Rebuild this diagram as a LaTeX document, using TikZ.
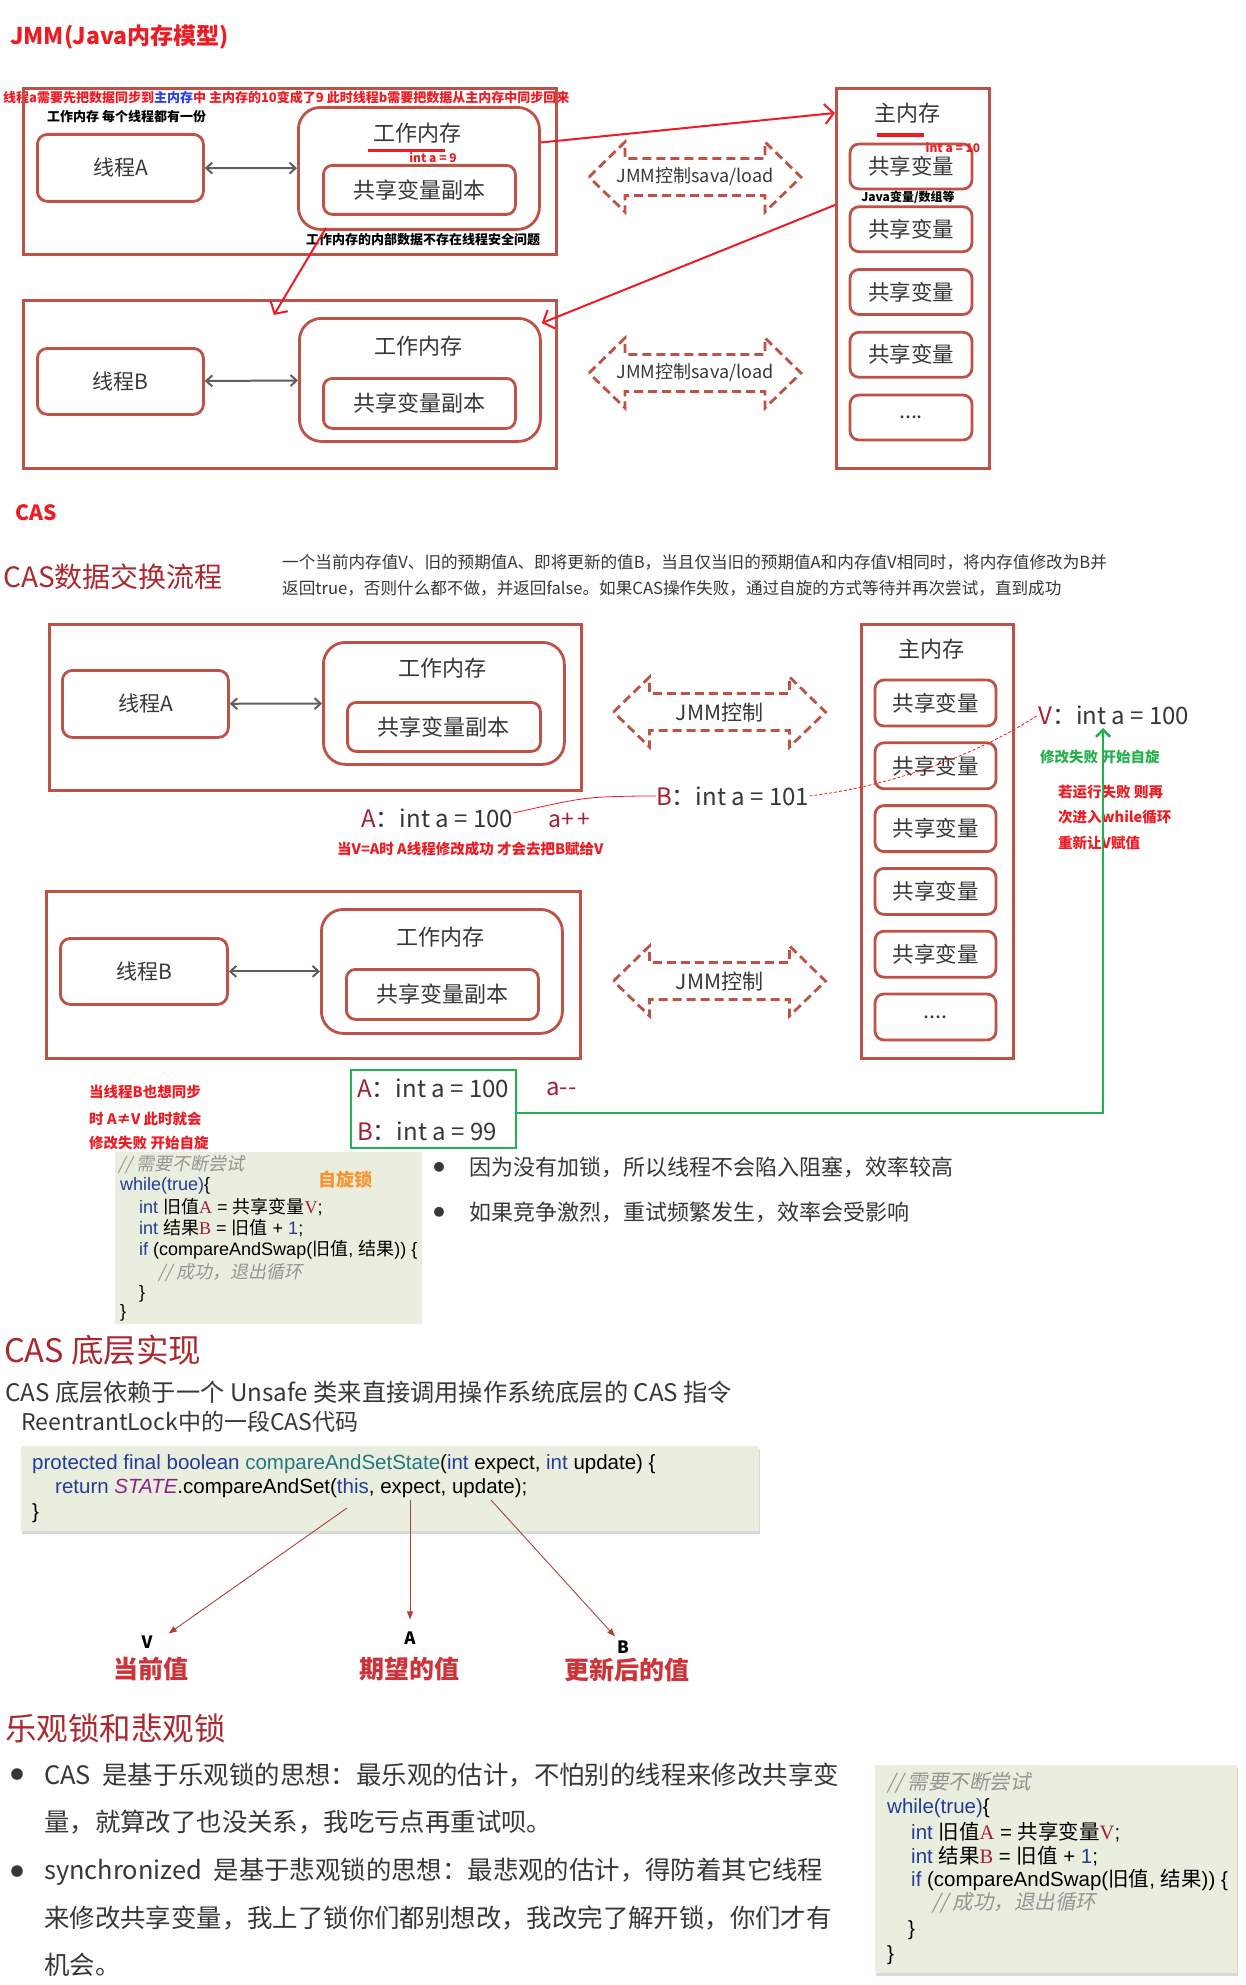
\documentclass[tikz,border=0pt]{standalone}
\usepackage{fontspec}
\setmainfont{Noto Sans CJK SC}
\newfontfamily\cjk{Noto Sans CJK SC}
\newfontfamily\cjkit[FakeSlant=0.2]{Noto Sans CJK SC}
\newfontfamily\codefont{Liberation Sans}
\newfontfamily\letterfont{Liberation Serif}
\usetikzlibrary{arrows.meta,shadows}
\definecolor{BoxRed}{RGB}{190,82,70}
\definecolor{NoteRed}{RGB}{237,28,36}
\definecolor{NoteBlue}{RGB}{45,65,225}
\definecolor{SpinGreen}{RGB}{34,177,76}
\definecolor{TitleRed}{RGB}{170,40,48}
\definecolor{ValRed}{RGB}{165,30,50}
\definecolor{LabelRed}{RGB}{205,52,58}
\definecolor{LockOrange}{RGB}{245,150,50}
\definecolor{CodeBg}{RGB}{234,238,222}
\definecolor{CodeBlue}{RGB}{35,60,150}
\definecolor{CodeTeal}{RGB}{35,120,130}
\definecolor{CodePurple}{RGB}{140,35,140}
\definecolor{CodeGray}{RGB}{150,150,150}
\definecolor{TextGray}{RGB}{55,55,55}
\definecolor{LinkGray}{RGB}{95,95,95}
\definecolor{PtrRed}{RGB}{175,65,60}
\newcommand\fsz[1]{\fontsize{#1pt}{#1pt}\selectfont}
\newcommand\kw[1]{\textcolor{CodeBlue}{#1}}
\newcommand\cn[1]{{\cjk #1}}
\newcommand\cmt[1]{\textcolor{CodeGray}{\cjkit #1}}
\newcommand\rv[1]{\textcolor{ValRed}{\letterfont #1}}
\newcommand\val[2]{\textcolor{ValRed}{#1}：#2}
\newcommand\moredots{....}
% dashed double arrow of the JMM control
\newcommand\jmmctrl[4]{%
  \draw[ctrl,shift={(#2,#3)}] (-106,0) -- (-70,-35) -- (-70,-18.5) -- (70,-18.5)
    -- (70,-35) -- (106,0) -- (70,35) -- (70,18.5) -- (-70,18.5) -- (-70,35) -- cycle;
  \node[txt] (#1) at (#2,#3) {#4};}
\tikzset{
  outbox/.style={draw=BoxRed,line width=2.8pt,inner sep=0pt,text=TextGray},
  thread/.style={outbox,rounded corners=10pt,font=\fsz{21}},
  workmem/.style={outbox,rounded corners=22pt},
  copybox/.style={outbox,rounded corners=9pt,font=\fsz{22}},
  varbox/.style={outbox,rounded corners=9pt,font=\fsz{21.5},
    minimum width=122pt,minimum height=45pt},
  wh/.style 2 args={minimum width=#1pt,minimum height=#2pt,anchor=north west},
  txt/.style={inner sep=0pt,text=TextGray},
  note/.style={inner sep=0pt,anchor=west,font=\bfseries\fsz{13},text=NoteRed},
  casnote/.style={note,font=\bfseries\fsz{14.5}},
  heading/.style={inner sep=0pt,anchor=west,text=TitleRed,font=\fsz{30}},
  link/.style={{Straight Barb[length=6pt,width=11pt]}-{Straight Barb[length=6pt,width=11pt]},
    line width=2pt,LinkGray},
  sync/.style={-{Straight Barb[length=9pt,width=20pt]},line width=2pt,NoteRed},
  ctrl/.style={draw=BoxRed,line width=2.8pt,dash pattern=on 9pt off 5pt},
  codebox/.style={fill=CodeBg,inner sep=0pt,anchor=north west},
  codeline/.style={inner sep=0pt,anchor=west,font=\codefont\fsz{18}},
  pointer/.style={-{Triangle[length=8pt,width=6pt]},line width=0.9pt,PtrRed},
  shade/.style={drop shadow={shadow xshift=1pt,shadow yshift=-3pt,opacity=0.3}}
}
\begin{document}
\begin{tikzpicture}[x=1pt,y=-1pt]
\fill[white] (0,0) rectangle (1245,1985);
\useasboundingbox (0,0) rectangle (1245,1985);

% JMM
\node[heading,font=\bfseries\fsz{23},text=NoteRed] (jmmTitle) at (10,37) {JMM(Java内存模型)};
\node[note] (syncNote) at (3,98) {线程a需要先把数据同步到\textcolor{NoteBlue}{主内存}中 主内存的10变成了9 此时线程b需要把数据从主内存中同步回来};
\node[note,text=black] (wmNote) at (47,117) {工作内存 每个线程都有一份};

\node[outbox,wh={533}{166}] (outA) at (22,87) {};
\node[thread,wh={166}{67}] (thA) at (36,133) {线程A};
\node[workmem,wh={241}{122}] (wmA) at (297,106) {};
\node[txt,font=\fsz{22}] (wmAt) at (417,133) {工作内存};
\draw[NoteRed,line width=3pt] (368,151) -- (445,151);
\node[txt,font=\bfseries\fsz{12},text=NoteRed] (wmAval) at (433,158) {int a = 9};
\node[copybox,wh={192}{49}] (cpA) at (322,164) {共享变量副本};
\draw[link] (thA) -- (wmA);
\node[note,text=black] (safeNote) at (306,240) {工作内存的内部数据不存在线程安全问题};

\node[outbox,wh={533}{168}] (outB) at (22,299) {};
\node[thread,wh={166}{66}] (thB) at (36,347) {线程B};
\node[workmem,wh={241}{123}] (wmB) at (298,317) {};
\node[txt,font=\fsz{22}] (wmBt) at (418,346) {工作内存};
\node[copybox,wh={192}{50}] (cpB) at (322,377) {共享变量副本};
\draw[link] (thB) -- (wmB);

\jmmctrl{ctrlA}{695}{177}{\fsz{18}JMM控制sava/load}
\jmmctrl{ctrlB}{695}{373}{\fsz{18}JMM控制sava/load}

\node[outbox,wh={153}{380}] (mmA) at (835,87) {};
\node[txt,font=\fsz{22}] (mmAt) at (907,113) {主内存};
\draw[NoteRed,line width=4pt] (877,135) -- (924,135);
\foreach \i/\t in {1/共享变量,2/共享变量,3/共享变量,4/共享变量,5/\moredots}
  \node[varbox] (svA\i) at (911,{166.5+62.75*(\i-1)}) {\t};
\node[txt,font=\bfseries\fsz{12},text=NoteRed] (mmAval) at (953,148) {int a = 10};
\node[txt,font=\bfseries\fsz{12},text=black] (mmAnote) at (908,197) {Java变量/数组等};

\draw[sync] (wmA.12) -- ([yshift=-26pt]mmA.north west);
\draw[sync] ([yshift=-118pt]mmA.north west) -- (wmB.25);
\draw[sync] ([shift={(29pt,3pt)}]wmA.south west) -- ([shift={(-16pt,-16pt)}]outB.north);

% CAS
\node[heading,font=\bfseries\fsz{21},text=NoteRed] (casTag) at (15,513) {CAS};
\node[heading,font=\fsz{28}] (casTitle) at (3,577) {CAS数据交换流程};
\node[txt,anchor=west,font=\fsz{16.6}] (casDesc1) at (282,562) {一个当前内存值V、旧的预期值A、即将更新的值B，当且仅当旧的预期值A和内存值V相同时，将内存值修改为B并};
\node[txt,anchor=west,font=\fsz{16.6}] (casDesc2) at (282,588) {返回true，否则什么都不做，并返回false。如果CAS操作失败，通过自旋的方式等待并再次尝试，直到成功};

\node[outbox,wh={532}{166}] (outCA) at (48,623) {};
\node[thread,wh={166}{67}] (thCA) at (61,669) {线程A};
\node[workmem,wh={241}{122}] (wmCA) at (322,641) {};
\node[txt,font=\fsz{22}] (wmCAt) at (442,668) {工作内存};
\node[copybox,wh={193}{49}] (cpCA) at (346,701) {共享变量副本};
\draw[link] (thCA) -- (wmCA);

\node[outbox,wh={534}{167}] (outCB) at (45,890) {};
\node[thread,wh={167}{66}] (thCB) at (59,937) {线程B};
\node[workmem,wh={241}{124}] (wmCB) at (320,908) {};
\node[txt,font=\fsz{22}] (wmCBt) at (440,937) {工作内存};
\node[copybox,wh={192}{50}] (cpCB) at (345,968) {共享变量副本};
\draw[link] (thCB) -- (wmCB);

\jmmctrl{ctrlCA}{719.5}{712}{\fsz{21}JMM控制}
\jmmctrl{ctrlCB}{719.5}{981}{\fsz{21}JMM控制}

\node[outbox,wh={152}{434}] (mmC) at (860,623) {};
\node[txt,font=\fsz{22}] (mmCt) at (931,649) {主内存};
\foreach \i/\t in {1/共享变量,2/共享变量,3/共享变量,4/共享变量,5/共享变量,6/\moredots}
  \node[varbox,minimum width=121pt,minimum height=46pt] (svC\i) at (935.5,{703+62.8*(\i-1)}) {\t};

\node[txt,anchor=west,font=\fsz{24}] (Aval) at (361,818) {\val{A}{int a = 100}};
\node[txt,anchor=west,font=\fsz{23}] (aInc) at (548,820) {\textcolor{ValRed}{a+\,+}};
\node[casnote] (okNote) at (337,849) {当V=A时 A线程修改成功 才会去把B赋给V};
\node[txt,anchor=west,font=\fsz{24}] (Bval) at (656,796) {\val{B}{int a = 101}};
\node[txt,anchor=west,font=\fsz{24}] (Vval) at (1038,715) {\val{V}{int a = 100}};
\draw[NoteRed,line width=0.8pt] ([yshift=5pt]Aval.east) .. controls (585,797) .. (640,796) -- (Bval.west);
\draw[NoteRed,line width=0.8pt,dash pattern=on 3pt off 2pt] (Bval.east) .. controls (900,785) and (985,750) .. (Vval.west);
\node[casnote,text=SpinGreen] (failNote) at (1040,757) {修改失败 开始自旋};
\node[casnote] (retry1) at (1058,792) {若运行失败 则再};
\node[casnote] (retry2) at (1058,817) {次进入while循环};
\node[casnote] (retry3) at (1058,843) {重新让V赋值};

\node[draw=SpinGreen,line width=1.5pt,inner sep=0pt,wh={165}{78}] (grn) at (350,1069) {};
\node[txt,anchor=west,font=\fsz{24}] (gA) at (357,1088) {\val{A}{int a = 100}};
\node[txt,anchor=west,font=\fsz{24}] (gB) at (357,1131) {\val{B}{int a = 99}};
\node[txt,anchor=west,font=\fsz{24}] (aDec) at (546,1089) {\textcolor{ValRed}{a-{}-}};
\coordinate (spinTop) at (1103,728);
\draw[SpinGreen,line width=2.5pt,-{Straight Barb[length=7pt,width=14pt]}] ([yshift=-4pt]grn.east) -| (spinTop);

\node[casnote] (bNote1) at (89,1092) {当线程B也想同步};
\node[casnote] (bNote2) at (89,1119) {时 A≠V 此时就会};
\node[casnote] (bNote3) at (89,1143) {修改失败 开始自旋};

\node[codebox,wh={307}{172}] (spinCode) at (115,1152) {};
\node[codeline] (sc1) at (118,1165) {\cmt{// 需要不断尝试}};
\node[codeline] (sc2) at (120,1186) {\kw{while(true)}\{};
\node[codeline] (sc3) at (139,1207) {\kw{int} \cn{旧值}\rv{A} = \cn{共享变量}\rv{V};};
\node[codeline] (sc4) at (139,1228) {\kw{int} \cn{结果}\rv{B} = \cn{旧值} + \kw{1};};
\node[codeline] (sc5) at (139,1250) {\kw{if} (compareAndSwap(\cn{旧值}, \cn{结果})) \{};
\node[codeline] (sc6) at (158,1273) {\cmt{// 成功，退出循环}};
\node[codeline] (sc7) at (139,1294) {\}};
\node[codeline] (sc8) at (120,1313) {\}};
\node[txt,anchor=west,font=\bfseries\fsz{18},text=LockOrange] (spinLock) at (318,1180) {自旋锁};

\node[txt,font=\fsz{11}] (dot1) at (439,1167) {●};
\node[txt,anchor=west,font=\fsz{22}] (pro1) at (469,1167) {因为没有加锁，所以线程不会陷入阻塞，效率较高};
\node[txt,font=\fsz{11}] (dot2) at (439,1212) {●};
\node[txt,anchor=west,font=\fsz{22}] (pro2) at (469,1212) {如果竞争激烈，重试频繁发生，效率会受影响};

% CAS implementation
\node[heading,font=\fsz{32.5}] (implTitle) at (4,1350) {CAS 底层实现};
\node[txt,anchor=west,font=\fsz{24.2}] (implDesc) at (5,1392) {CAS 底层依赖于一个 Unsafe 类来直接调用操作系统底层的 CAS 指令};
\node[txt,anchor=west,font=\fsz{23}] (implSub) at (21,1422) {ReentrantLock中的一段CAS代码};
\node[codebox,shade,wh={738}{85}] (rlCode) at (21,1446) {};
\node[codeline,font=\codefont\fsz{20.5}] (rl1) at (32,1464) {\kw{protected final boolean} \textcolor{CodeTeal}{compareAndSetState}(\kw{int} expect, \kw{int} update) \{};
\node[codeline,font=\codefont\fsz{20.5}] (rl2) at (55,1488) {\kw{return} \textcolor{CodePurple}{\itshape STATE}.compareAndSet(\kw{this}, expect, update);};
\node[codeline,font=\codefont\fsz{20.5}] (rl3) at (32,1513) {\}};
\coordinate (fromV) at (347,1508);
\coordinate (fromA) at (410,1500);
\coordinate (fromB) at (491,1500);
\node[txt,font=\bfseries\fsz{17},text=black] (lblV) at (147,1642) {V};
\node[txt,font=\bfseries\fsz{17},text=black] (lblA) at (410,1638) {A};
\node[txt,font=\bfseries\fsz{17},text=black] (lblB) at (623,1647) {B};
\node[txt,font=\bfseries\fsz{25},text=LabelRed] (curV) at (151,1669) {当前值};
\node[txt,font=\bfseries\fsz{25},text=LabelRed] (expA) at (409,1669) {期望的值};
\node[txt,font=\bfseries\fsz{25},text=LabelRed] (newB) at (627,1670) {更新后的值};
\draw[pointer] (fromV) -- ([shift={(16pt,2pt)}]lblV.north east);
\draw[pointer] (fromA) -- ([yshift=12pt]lblA.north);
\draw[pointer] (fromB) -- ([shift={(-8pt,4pt)}]lblB.north);

% optimistic / pessimistic
\node[heading,font=\fsz{31.5}] (lockTitle) at (5,1728) {乐观锁和悲观锁};
\node[txt,font=\fsz{13}] (dot3) at (17,1775) {●};
\node[txt,anchor=west,font=\fsz{25.4}] (optA) at (44,1775) {CAS\ \ 是基于乐观锁的思想：最乐观的估计，不怕别的线程来修改共享变};
\node[txt,anchor=west,font=\fsz{25.4}] (optB) at (44,1822) {量，就算改了也没关系，我吃亏点再重试呗。};
\node[txt,font=\fsz{13}] (dot4) at (17,1872) {●};
\node[txt,anchor=west,font=\fsz{25.4}] (pesA) at (44,1872) {synchronized\ \ 是基于悲观锁的思想：最悲观的估计，得防着其它线程};
\node[txt,anchor=west,font=\fsz{25.4}] (pesB) at (44,1918) {来修改共享变量，我上了锁你们都别想改，我改完了解开锁，你们才有};
\node[txt,anchor=west,font=\fsz{25.4}] (pesC) at (44,1965) {机会。};

\node[codebox,shade,wh={362}{208}] (loopCode) at (875,1765) {};
\node[codeline,font=\codefont\fsz{20.5}] (lc1) at (887,1783) {\cmt{// 需要不断尝试}};
\node[codeline,font=\codefont\fsz{20.5}] (lc2) at (887,1808) {\kw{while(true)}\{};
\node[codeline,font=\codefont\fsz{20.5}] (lc3) at (911,1832) {\kw{int} \cn{旧值}\rv{A} = \cn{共享变量}\rv{V};};
\node[codeline,font=\codefont\fsz{20.5}] (lc4) at (911,1856) {\kw{int} \cn{结果}\rv{B} = \cn{旧值} + \kw{1};};
\node[codeline,font=\codefont\fsz{20.5}] (lc5) at (911,1880) {\kw{if} (compareAndSwap(\cn{旧值}, \cn{结果})) \{};
\node[codeline,font=\codefont\fsz{20.5}] (lc6) at (932,1903) {\cmt{// 成功，退出循环}};
\node[codeline,font=\codefont\fsz{20.5}] (lc7) at (908,1930) {\}};
\node[codeline,font=\codefont\fsz{20.5}] (lc8) at (887,1955) {\}};
\end{tikzpicture}
\end{document}
